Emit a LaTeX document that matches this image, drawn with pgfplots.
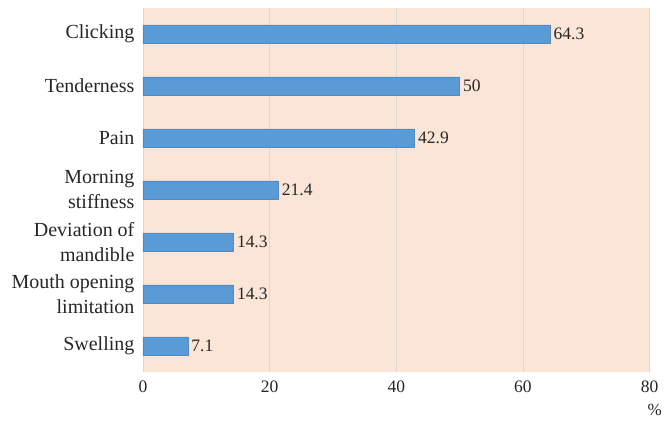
\documentclass[border=0pt]{standalone}
\usepackage{pgfplots}
\pgfplotsset{compat=1.18}
\usepackage{fontspec}
\setmainfont{Liberation Serif}
\definecolor{barblue}{HTML}{5B9BD5}
\definecolor{peach}{HTML}{FBE5D6}
\definecolor{gridc}{HTML}{DFD6D0}
\definecolor{txt}{HTML}{262626}
\begin{document}
\begin{tikzpicture}
\begin{axis}[
  at={(0,0)}, anchor=south west,
  scale only axis,
  width=507pt, height=364pt,
  xbar,
  bar width=18pt,
  xmin=0, xmax=80,
  ymin=-0.5, ymax=6.5,
  xtick={0,20,40,60,80},
  ytick={0,1,2,3,4,5,6},
  yticklabels={Swelling,{Mouth opening\\limitation},{Deviation of\\mandible},{Morning\\stiffness},Pain,Tenderness,Clicking},
  yticklabel style={align=right, font=\fontsize{20}{25}\selectfont, text=txt, xshift=-5pt},
  xticklabel style={font=\fontsize{17.5}{19}\selectfont, text=txt, yshift=-6pt},
  /pgf/number format/assume math mode=true,
  axis background/.style={fill=peach},
  axis line style={draw=none},
  major tick length=0pt,
  xmajorgrids,
  grid style={gridc, line width=0.6pt},
  tick align=outside,
  nodes near coords,
  nodes near coords style={font=\fontsize{17.5}{19}\selectfont, color=txt, anchor=west, xshift=0pt},
  point meta=explicit symbolic,
]
\addplot[fill=barblue, draw=barblue!90!black, line width=0.4pt] coordinates {
  (7.1,0) [7.1]
  (14.3,1) [14.3]
  (14.3,2) [14.3]
  (21.4,3) [21.4]
  (42.9,4) [42.9]
  (50,5) [50]
  (64.3,6) [64.3]
};
\end{axis}
\node[font=\fontsize{17}{19}\selectfont, text=txt] at (512pt,-38pt) {\%};
\useasboundingbox (-143pt,-51pt) rectangle (522pt,372pt);
\end{tikzpicture}
\end{document}
